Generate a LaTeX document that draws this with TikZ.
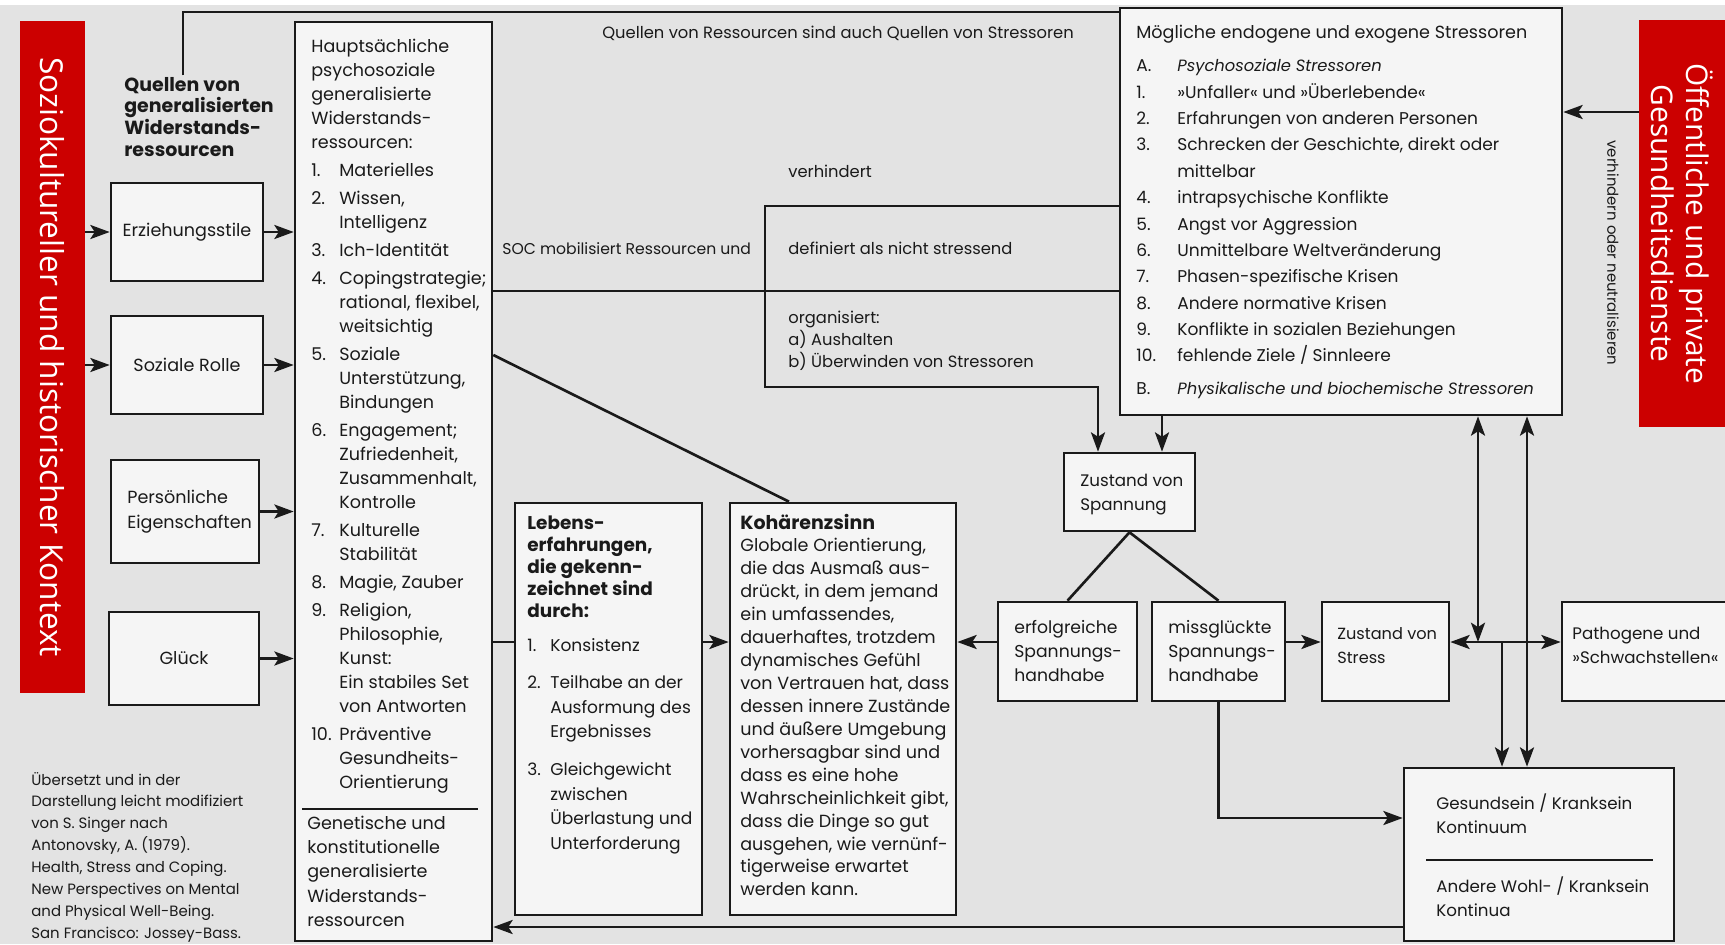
\documentclass[tikz,border=0pt]{standalone}
\usepackage{fontspec}
\setmainfont{Poppins}
\newfontfamily\barfont{Open Sans}
\usetikzlibrary{arrows.meta,fit}

\definecolor{paper}{HTML}{E3E3E3}
\definecolor{boxbg}{HTML}{F5F5F5}
\definecolor{barred}{HTML}{CC0000}
\definecolor{ink}{HTML}{1A1A1A}

\newcommand{\txtlines}[1]{\begin{tabular}[t]{@{}l@{}}#1\end{tabular}}

\tikzset{
  box/.style={draw=ink, line width=1.5pt, fill=boxbg, inner sep=0pt},
  redbar/.style={fill=barred, inner sep=0pt},
  con/.style={draw=ink, line width=1.5pt},
  arr/.style={con, -{Stealth[length=11pt, width=8pt, inset=2.5pt]}},
  arrboth/.style={con, {Stealth[length=11pt, width=8pt, inset=2.5pt]}-{Stealth[length=11pt, width=8pt, inset=2.5pt]}},
  txt/.style={inner sep=0pt, text=ink, font=\fontsize{10}{13.7}\selectfont, anchor=base west},
  lbl/.style={txt, font=\fontsize{9.3}{12.8}\selectfont},
  small/.style={txt, font=\fontsize{9.5}{14.2}\selectfont},
  bartxt/.style={inner sep=0pt, text=white, font=\barfont\fontsize{18}{21}\selectfont, rotate=-90, align=center},
}

\begin{document}
\begin{tikzpicture}[x=0.02cm, y=-0.02cm]
  \useasboundingbox (0,0) rectangle (1725,944);
  \fill[paper] (0,0) rectangle (1725,944);
  \fill[white] (0,0) rectangle (1725,5);

  % Kontext-Balken
  \node[redbar, fit={(20,21) (85,693)}] (ctx) {};
  \node[bartxt] (ctxt) at (ctx.center) {Soziokultureller und historischer Kontext};
  \node[redbar, fit={(1639,20) (1725,427)}] (pub) {};
  \node[bartxt, font=\barfont\fontsize{17}{20}\selectfont] (pubt) at (pub.center) {Öffentliche und private\\Gesundheitsdienste};

  % Kästen
  \node[box, fit={(295,22) (492,941)}] (res) {};
  \node[box, fit={(111,183) (263,281)}] (erz) {};
  \node[box, fit={(111,316) (263,414)}] (rol) {};
  \node[box, fit={(111,460) (259,563)}] (eig) {};
  \node[box, fit={(109,612) (259,705)}] (gl) {};
  \node[box, fit={(515,503) (702,915)}] (leb) {};
  \node[box, fit={(730,503) (956,915)}] (koh) {};
  \node[box, fit={(1120,8) (1562,415)}] (str) {};
  \node[box, fit={(1064,453) (1195,531)}] (spa) {};
  \node[box, fit={(998,602) (1137,701)}] (erf) {};
  \node[box, fit={(1152,602) (1285,701)}] (mis) {};
  \node[box, fit={(1322,602) (1449,701)}] (sts) {};
  \node[box, fit={(1562,602) (1745,701)}] (pat) {};
  \node[box, fit={(1404,768) (1674,941)}] (ges) {};
  \draw[con] (302,809) -- (478,809);
  \draw[con] (1426,860) -- (1653,860);

  % Texte
  \node[txt, font=\bfseries\fontsize{10.8}{12.5}\selectfont] (qtxt) at (124,91)
       {\txtlines{Quellen von\\generalisierten\\Widerstands-\\ressourcen}};
  \node[txt, anchor=center] (erzt) at (erz.center) {Erziehungsstile};
  \node[txt, anchor=center] (rolt) at (rol.center) {Soziale Rolle};
  \node[txt, font=\fontsize{10}{14.5}\selectfont] (eigt) at (127,503) {\txtlines{Persönliche\\Eigenschaften}};
  \node[txt, anchor=center] (glt) at (gl.center) {Glück};

  \node[txt] (rest) at (311,52) {%
    \begin{tabular}[t]{@{}p{0.56cm}@{}l@{}}
      \multicolumn{2}{@{}l@{}}{Hauptsächliche}\\
      \multicolumn{2}{@{}l@{}}{psychosoziale}\\
      \multicolumn{2}{@{}l@{}}{generalisierte}\\
      \multicolumn{2}{@{}l@{}}{Widerstands-}\\
      \multicolumn{2}{@{}l@{}}{ressourcen:}\\[2.2pt]
      1. & Materielles\\[2.2pt]
      2. & Wissen,\\ & Intelligenz\\[2.2pt]
      3. & Ich-Identität\\[2.2pt]
      4. & Copingstrategie;\\ & rational, flexibel,\\ & weitsichtig\\[2.2pt]
      5. & Soziale\\ & Unterstützung,\\ & Bindungen\\[2.2pt]
      6. & Engagement;\\ & Zufriedenheit,\\ & Zusammenhalt,\\ & Kontrolle\\[2.2pt]
      7. & Kulturelle\\ & Stabilität\\[2.2pt]
      8. & Magie, Zauber\\[2.2pt]
      9. & Religion,\\ & Philosophie,\\ & Kunst:\\ & Ein stabiles Set\\ & von Antworten\\[2.2pt]
      10. & Präventive\\ & Gesundheits-\\ & Orientierung
    \end{tabular}};
  \node[txt, font=\fontsize{10}{13.9}\selectfont] (gent) at (307,829)
       {\txtlines{Genetische und\\konstitutionelle\\generalisierte\\Widerstands-\\ressourcen}};

  \node[txt, font=\fontsize{9.7}{15}\selectfont] (strt) at (1136,38) {%
    \begin{tabular}[t]{@{}p{0.82cm}@{}l@{}}
      \multicolumn{2}{@{}l@{}}{\fontsize{10}{15}\selectfont Mögliche endogene und exogene Stressoren}\\[4.3pt]
      A. & \textit{\fontsize{9.3}{15}\selectfont Psychosoziale Stressoren}\\
      1. & »Unfaller« und »Überlebende«\\
      2. & Erfahrungen von anderen Personen\\
      3. & Schrecken der Geschichte, direkt oder\\
         & mittelbar\\
      4. & intrapsychische Konflikte\\
      5. & Angst vor Aggression\\
      6. & Unmittelbare Weltveränderung\\
      7. & Phasen-spezifische Krisen\\
      8. & Andere normative Krisen\\
      9. & Konflikte in sozialen Beziehungen\\
      10. & fehlende Ziele / Sinnleere\\[3.7pt]
      B. & \textit{\fontsize{9.3}{15}\selectfont Physikalische und biochemische Stressoren}
    \end{tabular}};

  \node[txt, font=\bfseries\fontsize{10.5}{12.6}\selectfont] (lebh) at (527,529)
       {\txtlines{Lebens-\\erfahrungen,\\die gekenn-\\zeichnet sind\\durch:}};
  \node[txt, font=\fontsize{9.7}{14}\selectfont] (lebt) at (527,651) {%
    \begin{tabular}[t]{@{}p{0.46cm}@{}l@{}}
      1. & Konsistenz\\[7.5pt]
      2. & Teilhabe an der\\ & Ausformung des\\ & Ergebnisses\\[7.5pt]
      3. & Gleichgewicht\\ & zwischen\\ & Überlastung und\\ & Unterforderung
    \end{tabular}};

  \node[txt, font=\fontsize{10}{13.05}\selectfont] (koht) at (740,529)
       {\txtlines{\textbf{\fontsize{10.8}{13.05}\selectfont Kohärenzsinn}\\Globale Orientierung,\\die das Ausmaß aus-\\drückt, in dem jemand\\ein umfassendes,\\dauerhaftes, trotzdem\\dynamisches Gefühl\\von Vertrauen hat, dass\\dessen innere Zustände\\und äußere Umgebung\\vorhersagbar sind und\\dass es eine hohe\\Wahrscheinlichkeit gibt,\\dass die Dinge so gut\\ausgehen, wie vernünf-\\tigerweise erwartet\\werden kann.}};

  \node[small] (spat) at (1080,486) {\txtlines{Zustand von\\Spannung}};
  \node[small, font=\fontsize{9.8}{13.9}\selectfont] (erft) at (1014,633) {\txtlines{erfolgreiche\\Spannungs-\\handhabe}};
  \node[small, font=\fontsize{9.8}{13.9}\selectfont] (mist) at (1168,633) {\txtlines{missglückte\\Spannungs-\\handhabe}};
  \node[small, font=\fontsize{9.2}{14.2}\selectfont] (stst) at (1337,639) {\txtlines{Zustand von\\Stress}};
  \node[small] (patt) at (1572,639) {\txtlines{Pathogene und\\»Schwachstellen«}};
  \node[small] (gest) at (1436,809) {\txtlines{Gesundsein / Kranksein\\Kontinuum}};
  \node[small] (gesu) at (1436,892) {\txtlines{Andere Wohl- / Kranksein\\Kontinua}};

  \node[txt, font=\fontsize{8.5}{12.5}\selectfont] (cred) at (31,785)
       {\txtlines{Übersetzt und in der\\Darstellung leicht modifiziert\\von S. Singer nach\\Antonovsky, A. (1979).\\Health, Stress and Coping.\\New Perspectives on Mental\\and Physical Well-Being.\\San Francisco: Jossey-Bass.}};

  % Beschriftungen an Linien
  \node[lbl, anchor=base] (lblq) at (838,38) {Quellen von Ressourcen sind auch Quellen von Stressoren};
  \node[lbl, font=\fontsize{8.9}{12.8}\selectfont] (lblsoc) at (502,254) {SOC mobilisiert Ressourcen und};
  \node[lbl] (lblver) at (788,177) {verhindert};
  \node[lbl] (lbldef) at (788,254) {definiert als nicht stressend};
  \node[lbl] (lblorg) at (788,323)
       {\txtlines{organisiert:\\a) Aushalten\\b) Überwinden von Stressoren}};
  \node[txt, anchor=center, rotate=-90, font=\fontsize{8.5}{10}\selectfont] (lblneu) at (1613,253)
       {verhindern oder neutralisieren};

  % Verbindungen
  \draw[arr] (ctx.east |- erz.west) -- (erz.west);
  \draw[arr] (ctx.east |- rol.west) -- (rol.west);
  \foreach \b in {erz,rol,eig,gl}
    \draw[arr] (\b.east) -- (\b.east -| res.west);
  \draw[con] (qtxt.north -| 183,0) |- (str.west |- 0,12);
  \draw[con] (res.east |- 0,291) -- (str.west |- 0,291);
  \coordinate (brk) at (765,387);
  \draw[arr] (str.west |- 0,206) -| (brk) -| (spa.north -| 1098,0);
  \draw[arr] (str.south -| 1162,0) -- (spa.north -| 1162,0);
  \draw[con] (spa.south) -- (erf.north);
  \draw[con] (spa.south) -- (mis.north);
  \coordinate (row) at (0,642);
  \draw[con] (res.east |- row) -- (leb.west |- row);
  \draw[arr] (leb.east |- row) -- (koh.west |- row);
  \draw[con] (res.east |- 0,355) -- (koh.north -| 789,0);
  \draw[arr] (erf.west |- row) -- (koh.east |- row);
  \draw[arr] (mis.east |- row) -- (sts.west |- row);
  \draw[arrboth] (sts.east |- row) -- (pat.west |- row);
  \coordinate (jA) at (1478,642);
  \coordinate (jB) at (1502,642);
  \draw[arrboth] (str.south -| jA) -- (jA);
  \draw[arr] (jB) -- (ges.north -| jB);
  \draw[arrboth] (str.south -| 1527,0) -- (ges.north -| 1527,0);
  \draw[arr] (mis.south) |- (ges.west |- 0,818);
  \draw[arr] (ges.west |- 0,927) -- (res.east |- 0,927);
  \draw[arr] (pub.west |- 0,112) -- (str.east |- 0,112);
\end{tikzpicture}
\end{document}
